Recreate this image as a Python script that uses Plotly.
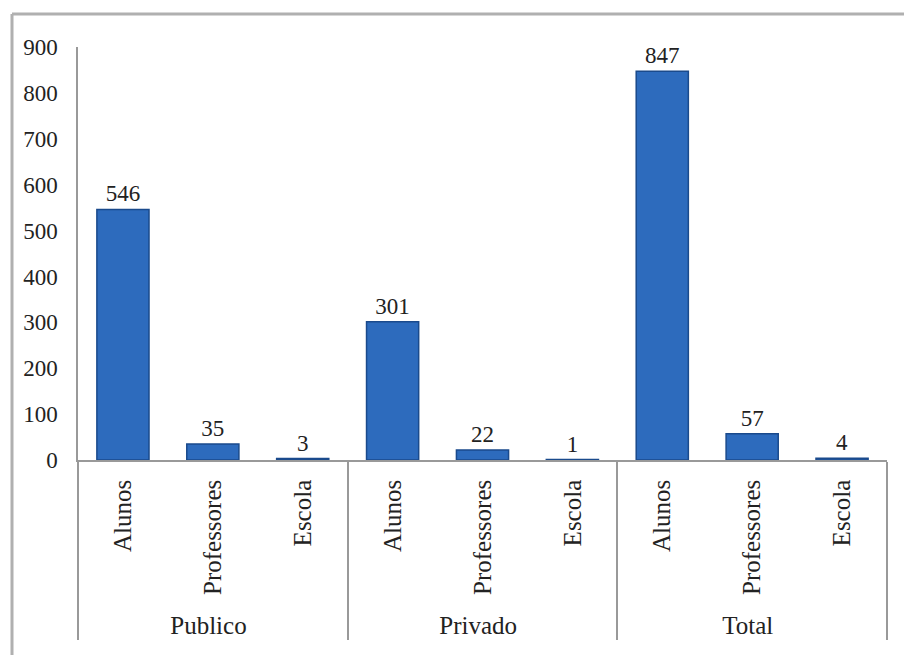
import plotly.graph_objects as go

groups = ["Publico", "Publico", "Publico", "Privado", "Privado", "Privado", "Total", "Total", "Total"]
categories = ["Alunos", "Professores", "Escola"] * 3
values = [546, 35, 3, 301, 22, 1, 847, 57, 4]
y_ticks = [0, 100, 200, 300, 400, 500, 600, 700, 800, 900]

FONT = "Liberation Serif, Times New Roman, serif"
FS = 23

fig = go.Figure()
fig.add_trace(go.Bar(
    x=[groups, categories],
    y=values,
    text=[str(v) for v in values],
    textposition="outside",
    textfont=dict(family=FONT, size=FS, color="#222"),
    cliponaxis=False,
    width=0.58,
    marker=dict(color="#2d6bbd", line=dict(color="#1a4a8c", width=1.5)),
))

W, H = 904, 655
L, R, T, B = 78, 17, 47, 195
pw, ph = W - L - R, H - T - B

fig.update_layout(
    width=W, height=H,
    margin=dict(l=L, r=R, t=T, b=B),
    paper_bgcolor="white", plot_bgcolor="white",
    showlegend=False,
    font=dict(family=FONT, size=FS, color="#222"),
)
fig.update_yaxes(
    range=[0, 900], tickvals=y_ticks, showgrid=False, zeroline=False,
    showline=True, linecolor="#999", linewidth=1.5,
    ticks="", ticklabelstandoff=14,
    tickfont=dict(family=FONT, size=FS, color="#222"),
)
fig.update_xaxes(
    type="multicategory", showgrid=False,
    showline=True, linecolor="#999", linewidth=1.5,
    tickangle=-90, showdividers=True, dividercolor="#999", dividerwidth=1.5,
    ticklabelstandoff=8,
    tickfont=dict(family=FONT, size=25, color="#222"),
)
# outer frame (top and left edges)
fig.add_shape(type="line", xref="paper", yref="paper",
              x0=(12 - L) / pw, x1=(W - L) / pw, y0=(H - B - 14) / ph, y1=(H - B - 14) / ph,
              line=dict(color="#b0b0b0", width=3))
fig.add_shape(type="line", xref="paper", yref="paper",
              x0=(12 - L) / pw, x1=(12 - L) / pw, y0=(H - B - 14) / ph, y1=-(B + 5) / ph,
              line=dict(color="#b0b0b0", width=3))

fig.write_html("out.html", config={"displayModeBar": False},
               post_script="document.body.style.margin='0';document.body.style.overflow='hidden';")
